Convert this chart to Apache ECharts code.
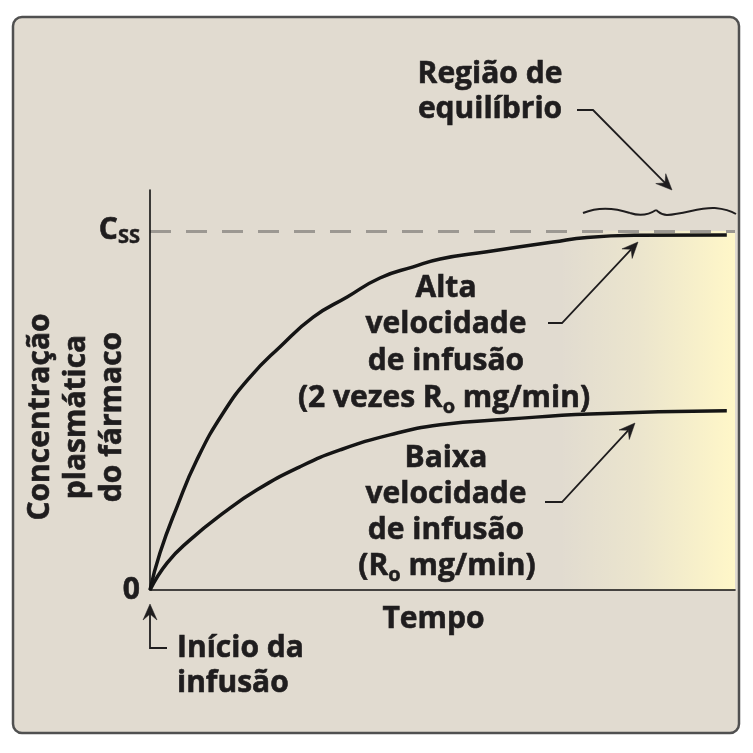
<!DOCTYPE html>
<html><head><meta charset="utf-8">
<script src="https://cdn.jsdelivr.net/npm/echarts@6/dist/echarts.min.js"></script>
<style>html,body{margin:0;padding:0;background:#fff}#chart{width:753px;height:753px}</style>
</head><body><div id="chart"></div>
<script>
// ---- data (time in % of axis, concentration in % of Css) ----
const timeHigh = [0, 1.7, 4.6, 8.0, 12.5, 17.1, 22.2, 27.9, 33.7, 39.3, 45.0, 49.6, 57.6, 68.9, 74.7, 83.2, 98.6];
const concHigh = [0, 10.3, 23.1, 36.2, 49.3, 59.3, 67.7, 76.0, 81.6, 86.9, 90.0, 92.2, 94.2, 96.9, 98.2, 98.8, 98.9];
const timeLow = [0, 2.9, 6.8, 12.5, 18.3, 25.6, 32.5, 41.0, 49.6, 61.5, 75.2, 98.6];
const concLow = [0, 7.5, 13.9, 21.4, 27.9, 34.3, 39.0, 43.2, 46.0, 47.6, 49.0, 49.9];
const yTickValues = [0, 100];
const yTickLabels = ['0', '{c|C}{s|SS}'];
const steadyStateLevel = 100;
const equilibriumRange = [70, 100];
const yMax = 111.4;

const FONT = "'Open Sans', sans-serif";
const INK = '#1f1d1e';
const BG = '#e1dbd0';
const FS = 30;

function pairs(xs, ys) { return xs.map((x, i) => [x, ys[i]]); }

function arrow(points) {
  const n = points.length;
  const tip = points[n - 1], prev = points[n - 2];
  let dx = tip[0] - prev[0], dy = tip[1] - prev[1];
  const len = Math.hypot(dx, dy); dx /= len; dy /= len;
  const L = 16, W = 7, N = 6;
  const nx = -dy, ny = dx;
  const notch = [tip[0] - (L - N) * dx, tip[1] - (L - N) * dy];
  const head = [tip,
    [tip[0] - L * dx + W * nx, tip[1] - L * dy + W * ny],
    notch,
    [tip[0] - L * dx - W * nx, tip[1] - L * dy - W * ny]];
  const pts = points.slice(0, n - 1).concat([notch]);
  return [
    { type: 'polyline', silent: true, z: 10, shape: { points: pts }, style: { stroke: INK, lineWidth: 1.8, fill: null } },
    { type: 'polygon', silent: true, z: 10, shape: { points: head }, style: { fill: INK, stroke: INK, lineWidth: 0.5 } }
  ];
}

function label(text, x, y, align) {
  const hasSub = text.indexOf('{s|') >= 0;
  const style = {
    text: text, fill: INK, font: 'bold ' + FS + 'px ' + FONT,
    align: align || 'center', textAlign: align || 'center',
    verticalAlign: 'middle', textVerticalAlign: 'middle'
  };
  if (hasSub) {
    style.rich = {
      m: { fontSize: FS, fontWeight: 'bold', fontFamily: FONT, fill: INK, stroke: INK, lineWidth: 0.6 },
      s: { fontSize: 20, fontWeight: 'bold', fontFamily: FONT, fill: INK, stroke: INK, lineWidth: 0.5, padding: [18, 0, 0, 0] }
    };
    style.text = text.split(/(\{s\|[^}]*\})/).map(p => p.startsWith('{s|') ? p : (p ? '{m|' + p + '}' : '')).join('');
  } else {
    style.stroke = INK; style.lineWidth = 0.6;
  }
  return { type: 'text', silent: true, z: 10, x: x, y: y, style: style };
}

function wave(segs) {
  return segs.map(s => ({ type: 'bezierCurve', silent: true, z: 10,
    shape: { x1: s[0], y1: s[1], cpx1: s[2], cpy1: s[3], cpx2: s[4], cpy2: s[5], x2: s[6], y2: s[7] },
    style: { stroke: INK, lineWidth: 2, fill: null } }));
}

const graphics = [
  { type: 'rect', silent: true, z: -10, shape: { x: 13, y: 17, width: 726, height: 716, r: 9 },
    style: { fill: BG, stroke: '#505050', lineWidth: 2.5 } },
  // equilibrium region annotation
  label('Região de', 490, 74.6),
  label('equilíbrio', 490, 109.6),
  ...arrow([[577, 110], [593, 110], [672, 190]]),
  ...wave([
    [583, 213, 600, 206, 615, 208, 630, 213],
    [630, 213, 642, 217, 650, 214, 656, 210],
    [656, 210, 659, 212, 661, 215, 667, 215],
    [667, 215, 685, 214, 700, 207, 715, 208],
    [715, 208, 725, 209, 731, 211, 736, 214]
  ]),
  // high rate
  label('Alta', 446, 288.6),
  label('velocidade', 446, 324.6),
  label('de infusão', 446, 361.6),
  label('(2 vezes R{s|o} mg/min)', 444, 398.6),
  ...arrow([[548, 323], [562, 323], [638, 242]]),
  // low rate
  label('Baixa', 446, 458.6),
  label('velocidade', 446, 494.6),
  label('de infusão', 446, 530.6),
  label('(R{s|o} mg/min)', 447, 566.6),
  ...arrow([[545, 502], [562, 502], [635, 423]]),
  // start of infusion
  label('Início da', 177, 648.6, 'left'),
  label('infusão', 177, 683.6, 'left'),
  ...arrow([[167, 648], [150, 648], [150, 604]]),
  // y axis title
  { type: 'text', silent: true, z: 10, x: 76, y: 417, rotation: Math.PI / 2,
    style: { text: 'Concentração\nplasmática\ndo fármaco', fill: INK, stroke: INK, lineWidth: 0.6,
      font: 'bold ' + FS + 'px ' + FONT,
      align: 'center', textAlign: 'center', verticalAlign: 'middle', textVerticalAlign: 'middle', lineHeight: 36 } }
];

const chart = echarts.init(document.getElementById('chart'), null, { renderer: 'canvas' });
chart.setOption({
  backgroundColor: '#ffffff',
  animation: false,
  grid: { left: 150, right: 18, top: 190, bottom: 163, containLabel: false },
  xAxis: {
    type: 'value', min: 0, max: 100, z: 5,
    name: 'Tempo', nameLocation: 'middle', nameGap: 14,
    nameTextStyle: { color: INK, fontSize: FS, fontWeight: 'bold', fontFamily: FONT, padding: [0, 18, 0, 0],
      textBorderColor: INK, textBorderWidth: 0.6 },
    axisLine: { show: true, lineStyle: { color: '#111', width: 1.6 } },
    axisTick: { show: false }, axisLabel: { show: false }, splitLine: { show: false }
  },
  yAxis: {
    type: 'value', min: 0, max: yMax, interval: 100, z: 5,
    axisLine: { show: true, lineStyle: { color: '#111', width: 1.6 } },
    axisTick: { show: false }, splitLine: { show: false },
    axisLabel: {
      margin: 10, color: INK, fontSize: FS, fontWeight: 'bold', fontFamily: FONT,
      textBorderColor: INK, textBorderWidth: 0.6,
      formatter: function (v) { const i = yTickValues.indexOf(v); return i >= 0 ? yTickLabels[i] : ''; },
      rich: {
        c: { fontSize: FS, fontWeight: 'bold', fontFamily: FONT, color: INK, textBorderColor: INK, textBorderWidth: 0.6 },
        s: { fontSize: 20, fontWeight: 'bold', fontFamily: FONT, color: INK, textBorderColor: INK, textBorderWidth: 0.5, padding: [12, 0, 0, 0] }
      }
    }
  },
  series: [
    {
      name: 'Alta velocidade de infusão', type: 'line', data: pairs(timeHigh, concHigh),
      showSymbol: false, smooth: 0.5, z: 3,
      lineStyle: { color: '#151515', width: 3.5 },
      markLine: {
        silent: true, symbol: 'none', label: { show: false },
        lineStyle: { color: '#9c9892', width: 3, type: [21, 15] },
        data: [{ yAxis: steadyStateLevel }]
      },
      markArea: {
        silent: true,
        itemStyle: { color: { type: 'linear', x: 0, y: 0, x2: 1, y2: 0,
          colorStops: [{ offset: 0, color: 'rgba(255,248,200,0)' }, { offset: 0.45, color: 'rgba(255,247,200,0.35)' }, { offset: 1, color: 'rgba(255,247,200,1)' }] } },
        data: [[{ xAxis: equilibriumRange[0], yAxis: 0 }, { xAxis: equilibriumRange[1], yAxis: steadyStateLevel }]]
      }
    },
    {
      name: 'Baixa velocidade de infusão', type: 'line', data: pairs(timeLow, concLow),
      showSymbol: false, smooth: 0.5, z: 3,
      lineStyle: { color: '#151515', width: 3.5 }
    }
  ],
  graphic: { elements: graphics }
});
</script>
</body></html>
